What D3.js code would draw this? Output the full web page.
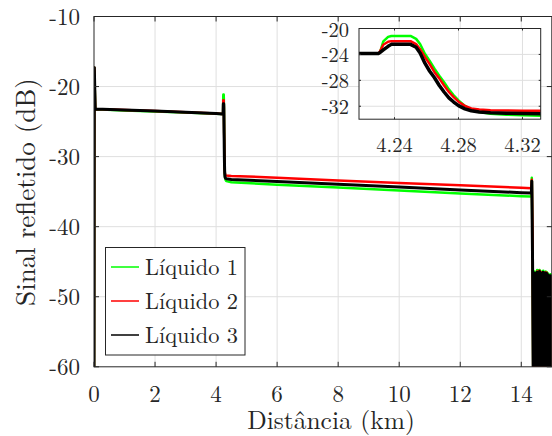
<!DOCTYPE html>
<html>
<head>
<meta charset="utf-8">
<script src="https://cdn.jsdelivr.net/npm/d3@7"></script>
<style>
  body { margin: 0; background: #fff; }
  svg { display: block; }
</style>
</head>
<body>
<svg id="chart" width="552" height="436"></svg>
<script>
// ---- data -------------------------------------------------------------
const seriesNames = ["Líquido 1", "Líquido 2", "Líquido 3"];
const seriesColors = ["#00ff00", "#ff0000", "#000000"];

// distance samples (km): launch spike, first fibre, splice near 4.23 km,
// second fibre and the fibre end near 14.35 km
const distance = [0, 0.01, 0.04, 1, 2, 3, 4,
  4.2, 4.2299, 4.231, 4.233, 4.236, 4.238, 4.25, 4.2535, 4.256, 4.259, 4.262, 4.265,
  4.268, 4.271, 4.274, 4.277, 4.28, 4.284, 4.288, 4.293, 4.3, 4.31, 4.32, 4.335,
  4.5, 6, 8, 10, 12, 14, 14.33, 14.345, 14.37, 14.39];

const liquido1 = [-60, -17.3, -23.25, -23.4, -23.55, -23.7, -23.88,
  -23.9, -23.85, -23.65, -22.0, -21.3, -21.15, -21.15, -21.6, -22.4, -23.9, -25.0, -26.2,
  -27.3, -28.3, -29.4, -30.3, -31.1, -31.95, -32.5, -32.9, -33.15, -33.3, -33.4, -33.5,
  -33.65, -34.0, -34.4, -34.85, -35.25, -35.65, -35.7, -33.0, -44, -60];

const liquido2 = [-60, -17.3, -23.2, -23.35, -23.5, -23.65, -23.85,
  -23.9, -23.85, -23.5, -22.5, -22.05, -21.95, -21.95, -22.4, -23.2, -24.4, -25.5, -26.75,
  -27.7, -28.8, -29.8, -30.6, -31.3, -31.95, -32.35, -32.5, -32.6, -32.65, -32.7, -32.7,
  -32.75, -33.0, -33.4, -33.75, -34.1, -34.45, -34.5, -33.3, -41, -60];

const liquido3 = [-60, -17.3, -23.2, -23.35, -23.5, -23.65, -23.85,
  -23.9, -23.85, -23.7, -23.3, -22.75, -22.45, -22.45, -22.9, -23.8, -25.35, -26.6, -27.6,
  -28.8, -29.8, -30.7, -31.35, -31.9, -32.4, -32.7, -32.9, -33.0, -33.08, -33.12, -33.15,
  -33.25, -33.55, -33.95, -34.35, -34.75, -35.15, -35.2, -33.5, -45, -60];

// noise floor after the fibre end
const tailDistance = [14.40, 14.42, 14.44, 14.46, 14.48, 14.50, 14.52, 14.54, 14.56, 14.58,
  14.60, 14.62, 14.64, 14.66, 14.68, 14.70, 14.72, 14.74, 14.76, 14.78,
  14.80, 14.82, 14.84, 14.86, 14.88, 14.90, 14.92, 14.94, 14.96, 14.98];
const tail1 = [-46.6, -60, -46.4, -60, -46.5, -60, -46.2, -60, -46.3, -60, -46.2, -60, -46.5, -60, -46.4, -60,
  -46.3, -60, -46.6, -60, -46.4, -60, -46.5, -60, -46.7, -60, -47.0, -60, -46.8, -60];
const tail2 = [-46.7, -60, -46.7, -60, -46.6, -60, -46.4, -60, -46.5, -60, -46.3, -60, -46.6, -60, -46.5, -60,
  -46.6, -60, -46.7, -60, -46.5, -60, -46.6, -60, -47.4, -60, -47.6, -60, -47.3, -60];
const tail3 = [-46.8, -60, -46.6, -60, -46.7, -60, -46.5, -60, -46.6, -60, -46.4, -60, -46.7, -60, -46.6, -60,
  -46.5, -60, -46.8, -60, -46.6, -60, -46.7, -60, -46.9, -60, -47.2, -60, -47.0, -60];

const xTicks = [0, 2, 4, 6, 8, 10, 12, 14];
const yTicks = [-60, -50, -40, -30, -20, -10];
const insetXTicks = [4.24, 4.28, 4.32];
const insetYTicks = [-32, -28, -24, -20];

// ---- setup ------------------------------------------------------------
const axisColor = "#262626";
const gridColor = "#dfdfdf";
const fontFamily = '"Latin Modern Roman", "Liberation Serif", serif';
const svg = d3.select("#chart");

const series = [liquido1, liquido2, liquido3].map((vals, i) => ({
  name: seriesNames[i],
  color: seriesColors[i],
  points: d3.zip(distance.concat(tailDistance), vals.concat([tail1, tail2, tail3][i]))
}));

const x = d3.scaleLinear().domain([0, 15]).range([94, 551.8]);
const y = d3.scaleLinear().domain([-60, -10]).range([366.8, 16.5]);

svg.append("clipPath").attr("id", "plotClip")
  .append("rect").attr("x", x(0)).attr("y", y(-10))
  .attr("width", x(15) - x(0)).attr("height", y(-60) - y(-10));

// grid
const grid = svg.append("g");
grid.selectAll(".gx").data(xTicks.slice(1)).join("line")
  .attr("x1", d => x(d)).attr("x2", d => x(d)).attr("y1", y(-10)).attr("y2", y(-60))
  .attr("stroke", gridColor).attr("stroke-width", 1);
grid.selectAll(".gy").data(yTicks.slice(1, -1)).join("line")
  .attr("y1", d => y(d)).attr("y2", d => y(d)).attr("x1", x(0)).attr("x2", x(15))
  .attr("stroke", gridColor).attr("stroke-width", 1);

// traces
const line = d3.line().x(d => x(d[0])).y(d => y(d[1]));
svg.append("g").attr("clip-path", "url(#plotClip)")
  .selectAll("path").data(series).join("path")
  .attr("d", d => line(d.points))
  .attr("fill", "none").attr("stroke", d => d.color)
  .attr("stroke-width", (d, i) => i === 2 ? 3 : 2.5)
  .attr("stroke-linejoin", "round");

// axes box with inward ticks
const box = svg.append("g").attr("stroke", axisColor).attr("stroke-width", 1).attr("fill", "none");
box.append("rect").attr("x", x(0)).attr("y", y(-10))
  .attr("width", x(15) - x(0)).attr("height", y(-60) - y(-10));
const tl = 5;
xTicks.forEach(t => {
  box.append("line").attr("x1", x(t)).attr("x2", x(t)).attr("y1", y(-60)).attr("y2", y(-60) - tl);
  box.append("line").attr("x1", x(t)).attr("x2", x(t)).attr("y1", y(-10)).attr("y2", y(-10) + tl);
});
yTicks.forEach(t => {
  box.append("line").attr("y1", y(t)).attr("y2", y(t)).attr("x1", x(0)).attr("x2", x(0) + tl);
  box.append("line").attr("y1", y(t)).attr("y2", y(t)).attr("x1", x(15)).attr("x2", x(15) - tl);
});

function label(g) {
  return g.append("text").style("font-family", fontFamily).attr("fill", axisColor);
}

// tick labels
xTicks.forEach(t => label(svg).attr("x", x(t)).attr("y", 402).attr("text-anchor", "middle")
  .attr("font-size", 23).text(t));
yTicks.forEach(t => label(svg).attr("x", 80).attr("y", y(t) + 8.5).attr("text-anchor", "end")
  .attr("font-size", 23).text("-" + Math.abs(t)));

// axis titles
label(svg).attr("x", 331).attr("y", 428.5).attr("text-anchor", "middle")
  .attr("font-size", 25.5).text("Distância (km)");
label(svg).attr("transform", "translate(35,192) rotate(-90)")
  .attr("text-anchor", "middle").attr("font-size", 27)
  .text("Sinal refletido (dB)");

// legend
const legend = svg.append("g");
legend.append("rect").attr("x", 105.5).attr("y", 247.5).attr("width", 139.5).attr("height", 107.5)
  .attr("fill", "#fff").attr("stroke", axisColor).attr("stroke-width", 1);
series.forEach((s, i) => {
  const ly = 267 + i * 34;
  legend.append("line").attr("x1", 111).attr("x2", 139).attr("y1", ly).attr("y2", ly)
    .attr("stroke", s.color).attr("stroke-width", 1.5);
  label(legend).attr("x", 145).attr("y", ly + 8).attr("font-size", 22.4).text(s.name);
});

// ---- inset: zoom on the splice ------------------------------------------
const ix = d3.scaleLinear().domain([4.2178, 4.3314]).range([359, 540.7]);
const iy = d3.scaleLinear().domain([-34, -20]).range([119.2, 28.5]);
const inset = svg.append("g");
inset.append("clipPath").attr("id", "insetClip")
  .append("rect").attr("x", 359).attr("y", 28.5).attr("width", 181.7).attr("height", 90.7);
inset.append("rect").attr("x", 359).attr("y", 28.5).attr("width", 181.7).attr("height", 90.7)
  .attr("fill", "#fff");
insetXTicks.forEach(t => inset.append("line")
  .attr("x1", ix(t)).attr("x2", ix(t)).attr("y1", 28.5).attr("y2", 119.2)
  .attr("stroke", gridColor));
insetYTicks.forEach(t => inset.append("line")
  .attr("y1", iy(t)).attr("y2", iy(t)).attr("x1", 359).attr("x2", 540.7)
  .attr("stroke", gridColor));
const iline = d3.line().x(d => ix(d[0])).y(d => iy(d[1]));
inset.append("g").attr("clip-path", "url(#insetClip)")
  .selectAll("path").data(series).join("path")
  .attr("d", d => iline(d.points.filter(p => p[0] >= 4 && p[0] <= 4.5)))
  .attr("fill", "none").attr("stroke", d => d.color)
  .attr("stroke-width", (d, i) => i === 2 ? 3.5 : 2.5)
  .attr("stroke-linejoin", "round");
const ibox = inset.append("g").attr("stroke", axisColor).attr("fill", "none");
ibox.append("rect").attr("x", 359).attr("y", 28.5).attr("width", 181.7).attr("height", 90.7);
insetXTicks.forEach(t => {
  ibox.append("line").attr("x1", ix(t)).attr("x2", ix(t)).attr("y1", 119.2).attr("y2", 117.2);
  ibox.append("line").attr("x1", ix(t)).attr("x2", ix(t)).attr("y1", 28.5).attr("y2", 30.5);
});
insetYTicks.forEach(t => {
  ibox.append("line").attr("y1", iy(t)).attr("y2", iy(t)).attr("x1", 359).attr("x2", 361);
  ibox.append("line").attr("y1", iy(t)).attr("y2", iy(t)).attr("x1", 540.7).attr("x2", 538.7);
});
insetXTicks.forEach(t => label(inset).attr("x", ix(t)).attr("y", 152).attr("text-anchor", "middle")
  .attr("font-size", 20.5).text(t.toFixed(2)));
insetYTicks.forEach(t => label(inset).attr("x", 349).attr("y", iy(t) + 8).attr("text-anchor", "end")
  .attr("font-size", 20.5).text("-" + Math.abs(t)));
</script>
</body>
</html>
